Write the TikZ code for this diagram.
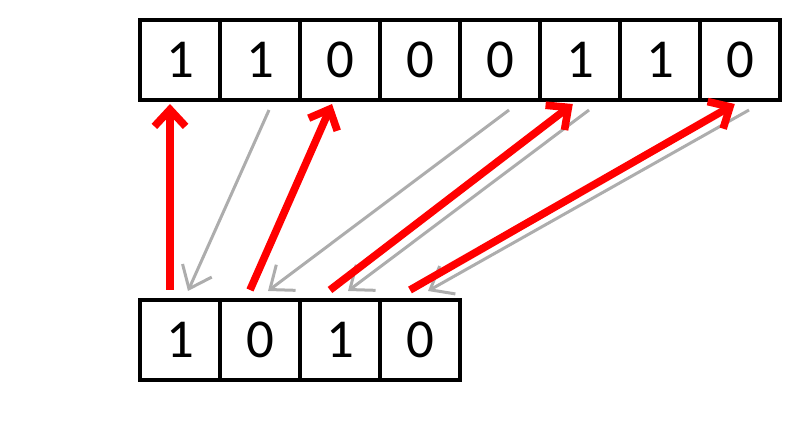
\documentclass[tikz,border=0pt]{standalone}
\usepackage{fontspec}
\setmainfont{Carlito}
\usetikzlibrary{arrows.meta}
\begin{document}
\begin{tikzpicture}[
        x=0.025cm,
        y=-0.025cm,
        font=\fontsize{39}{46}\selectfont
    ]
    \tikzset{
        boxnode/.style = {rectangle, draw=black, line width=0.1cm, minimum size=2cm, inner sep=0pt, outer sep=0pt},
        edger/.style = {line width=0.19cm, red, -{Straight Barb[length=0.42cm, width=0.78cm]}},
        edgeg/.style = {line width=0.075cm, black!32, -{Straight Barb[length=0.5cm, width=0.8cm]}},
    }
    \useasboundingbox (0,0) rectangle (800,420);
    % long word
    \foreach \v [count=\i] in {1,1,0,0,0,1,1,0}
        \node[boxnode] (t\i) at ({100+80*\i},60) {\v};
    % short word
    \foreach \v [count=\i] in {1,0,1,0}
        \node[boxnode] (b\i) at ({100+80*\i},340) {\v};
    %
    \draw[edgeg] ([xshift=0.225cm,yshift=-0.25cm]t2.south) -- ([xshift=0.2cm,yshift=0.225cm]b1.north);
    \draw[edgeg] ([xshift=0.225cm,yshift=-0.25cm]t5.south) -- ([xshift=0.2cm,yshift=0.225cm]b2.north);
    \draw[edgeg] ([xshift=0.225cm,yshift=-0.25cm]t6.south) -- ([xshift=0.2cm,yshift=0.225cm]b3.north);
    \draw[edgeg] ([xshift=0.225cm,yshift=-0.25cm]t8.south) -- ([xshift=0.2cm,yshift=0.225cm]b4.north);
    %
    \draw[edger] ([xshift=-0.25cm,yshift=0.25cm]b1.north) -- ([xshift=-0.25cm,yshift=-0.1cm]t1.south);
    \draw[edger] ([xshift=-0.25cm,yshift=0.25cm]b2.north) -- ([xshift=-0.2cm,yshift=-0.1cm]t3.south);
    \draw[edger] ([xshift=-0.25cm,yshift=0.25cm]b3.north) -- ([xshift=-0.18cm,yshift=-0.1cm]t6.south);
    \draw[edger] ([xshift=-0.25cm,yshift=0.25cm]b4.north) -- ([xshift=-0.13cm,yshift=-0.1cm]t8.south);
\end{tikzpicture}
\end{document}
